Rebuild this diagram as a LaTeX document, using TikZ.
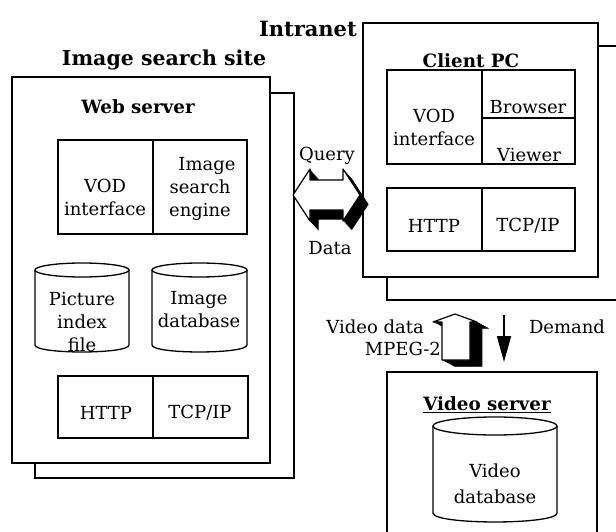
\documentclass[tikz,border=0pt]{standalone}
\usepackage{fontspec}
\setmainfont{DejaVu Serif}
\usetikzlibrary{arrows.meta}
\newcommand\mycyl[6]{% l, r, ellipse-centre y, side bottom y, ry, cx
  \filldraw[line width=1.3pt,fill=white] (#1,#3) -- (#1,#4) .. controls (#1,#4+1.33*#5) and (#2,#4+1.33*#5) .. (#2,#4) -- (#2,#3);
  \filldraw[line width=1.3pt,fill=white] (#6,#3) ellipse [x radius=#2/2-#1/2, y radius=#5];
}
\begin{document}
\begin{tikzpicture}[x=1pt,y=-1pt,
  box/.style={draw, line width=1.3pt, fill=white, inner sep=0pt, outer sep=0pt},
  divl/.style={line width=1.3pt},
  lbl/.style={font=\fontsize{18}{23}\selectfont, align=center, inner sep=0pt},
  ttl/.style={font=\fontsize{18.3}{23}\selectfont\bfseries, inner sep=0pt},
  bigttl/.style={font=\fontsize{20.5}{25}\selectfont\bfseries, inner sep=0pt},
  face/.style={fill=white, draw, line width=1.2pt, line join=round}]
\useasboundingbox (0,0) rectangle (616,532);
\clip (0,0) rectangle (616,532);

% ---------- Image search site ----------
\node[box, minimum width=259pt, minimum height=385pt] (webback) at (164.5,285.5) {};
\node[box, minimum width=258pt, minimum height=386pt] (web) at (141,270) {};
\node[bigttl] (site) at (164,60) {Image search site};
\node[ttl] (websrv) at (138,107) {Web server};

\node[box, minimum width=189pt, minimum height=94pt] (wup) at (152.5,187) {};
\draw[divl] (153,140) -- (153,234);
\node[lbl] (wvod) at (105,197) {VOD\\interface};
\node[lbl] (wise) at (200,189) {\hspace*{14pt}Image\\search\\engine};

\mycyl{35}{129}{270}{345}{7}{82}
\mycyl{152}{247}{270}{345}{7}{199.5}
\node[lbl] (pif) at (82,322) {Picture\\index\\file};
\node[lbl] (idb) at (199,310) {Image\\database};

\node[box, minimum width=190pt, minimum height=62pt] (wlow) at (153,407) {};
\draw[divl] (153,376) -- (153,438);
\node[lbl] (whttp) at (106,413) {HTTP};
\node[lbl] (wtcp) at (200,413) {TCP/IP};

% ---------- Intranet / Client PC ----------
\node[box, minimum width=243pt, minimum height=254pt] (cliback) at (508.5,173) {};
\node[box, minimum width=235pt, minimum height=254pt] (cli) at (480.5,150) {};
\node[bigttl, anchor=east, font=\fontsize{21}{25}\selectfont\bfseries] (intra) at (357,29) {Intranet};
\node[ttl] (clipc) at (471,61) {Client PC};

\node[box, minimum width=188pt, minimum height=94pt] (cup) at (481,117) {};
\draw[divl] (482,70) -- (482,164);
\draw[divl] (482,118) -- (575,118);
\node[lbl] (cvod) at (434,127) {VOD\\interface};
\node[lbl] (cbr) at (528,107) {Browser};
\node[lbl] (cview) at (529,155) {Viewer};

\node[box, minimum width=188pt, minimum height=63pt] (clow) at (481,219.5) {};
\draw[divl] (482,188) -- (482,251);
\node[lbl] (chttp) at (434,226) {HTTP};
\node[lbl] (ctcp) at (528,226) {TCP/IP};

% ---------- Video server ----------
\node[box, minimum width=210pt, minimum height=173pt] (vsrv) at (492,458.5) {};
\node[ttl] (vtitle) at (487,405) {\underline{Video server}};
\mycyl{433}{557}{426}{513}{9}{495}
\node[lbl] (vdb) at (495,484) {Video\\[3pt]database};

% ---------- Query / Data double arrow ----------
\foreach \t in {0,0.05,...,1.0}
  \fill[black, shift={(9*\t,10*\t)}] (293,195) -- (310,169) -- (310,180) -- (343,180) -- (343,169) -- (360,195) -- (343,221) -- (343,210) -- (310,210) -- (310,221) -- cycle;
\path[face] (293,195) coordinate (qtipL) -- (310,169) -- (310,180) -- (343,180) -- (343,169) -- (360,195) coordinate (qtipR) -- (343,221) -- (343,210) -- (310,210) -- (310,221) -- cycle;
\node[lbl] (query) at (327,156) {Query};
\node[lbl] (data) at (330,248) {Data};

% ---------- Video data up arrow ----------
\foreach \t in {0,0.05,...,1.0}
  \fill[black, shift={(13*\t,7*\t)}] (455,314) -- (477,322) -- (470,322) -- (470,360) -- (442,360) -- (442,322) -- (433,322) -- cycle;
\path[face] (455,314) coordinate (vtip) -- (477,322) -- (470,322) -- (470,360) -- (442,360) -- (442,322) -- (433,322) -- cycle;
\node[lbl, anchor=east] (vdata) at (424,327) {Video data};
\node[lbl, anchor=east] (mpeg) at (441,349) {MPEG-2};

% ---------- Demand arrow ----------
\coordinate (dS) at (504,315);
\coordinate (dE) at (504,362);
\draw[line width=1.6pt, -{Triangle[length=26pt,width=14pt]}] (dS) -- (dE);
\node[lbl] (demand) at (567,327) {Demand};
\end{tikzpicture}
\end{document}
